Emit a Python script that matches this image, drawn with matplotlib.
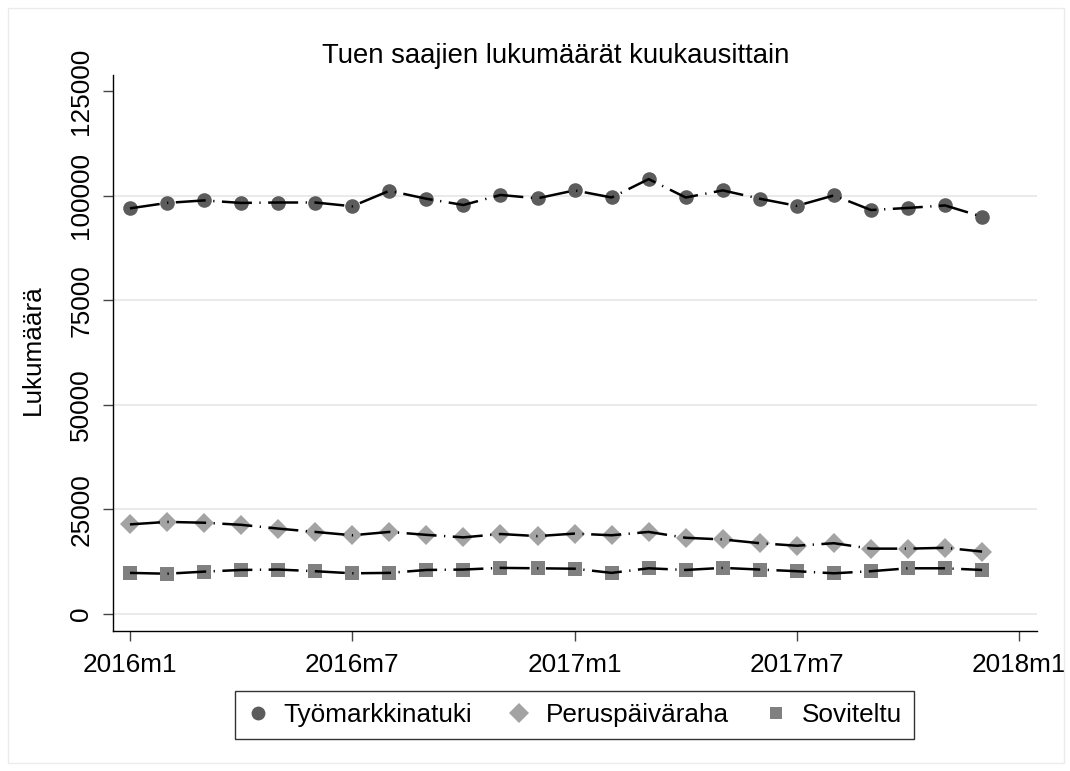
import matplotlib
matplotlib.use("Agg")
import matplotlib.pyplot as plt
from matplotlib.lines import Line2D
from matplotlib.patches import Rectangle

plt.rcParams['font.family'] = ['Liberation Sans', 'DejaVu Sans']

# ---- data ----
months = ["2016m1", "2016m2", "2016m3", "2016m4", "2016m5", "2016m6",
          "2016m7", "2016m8", "2016m9", "2016m10", "2016m11", "2016m12",
          "2017m1", "2017m2", "2017m3", "2017m4", "2017m5", "2017m6",
          "2017m7", "2017m8", "2017m9", "2017m10", "2017m11", "2017m12"]
tyomarkkinatuki = [97000, 98300, 98900, 98300, 98400, 98400, 97500, 101200,
                   99300, 97800, 100200, 99400, 101300, 99600, 104000, 99600,
                   101300, 99300, 97600, 100100, 96600, 97100, 97700, 95000]
peruspaivaraha = [21400, 22000, 21800, 21300, 20400, 19600, 18800, 19600,
                  18900, 18300, 19100, 18600, 19200, 18800, 19600, 18200,
                  17800, 16900, 16300, 16900, 15600, 15600, 15800, 14900]
soviteltu = [9800, 9600, 10100, 10500, 10600, 10200, 9700, 9800,
             10500, 10600, 11000, 10900, 10800, 9800, 10900, 10500,
             11000, 10600, 10200, 9700, 10200, 10900, 10900, 10500]
series_names = ["Työmarkkinatuki", "Peruspäiväraha", "Soviteltu"]
xtick_labels = ["2016m1", "2016m7", "2017m1", "2017m7", "2018m1"]
ytick_values = [0, 25000, 50000, 75000, 100000, 125000]
grid_values = [0, 25000, 50000, 75000, 100000]
title = "Tuen saajien lukumäärät kuukausittain"
ylabel = "Lukumäärä"

# ---- figure ----
W, H = 1070, 771
fig = plt.figure(figsize=(W / 100, H / 100), dpi=100)
fig.patches.append(Rectangle((8 / W, 8 / H), (1064 - 8) / W, (763 - 8) / H,
                             transform=fig.transFigure, fill=False,
                             edgecolor='#ebebeb', linewidth=1.0))

ax_l, ax_r, ax_t, ax_b = 113.3, 1037.3, 75, 631
ax = fig.add_axes([ax_l / W, 1 - ax_b / H, (ax_r - ax_l) / W, (ax_b - ax_t) / H])

x = list(range(len(months)))
styles = [
    dict(marker='o', color='#5c5c5c', ms=10.5),
    dict(marker='D', color='#a3a3a3', ms=10.5),
    dict(marker='s', color='#808080', ms=9.8),
]
data = [tyomarkkinatuki, peruspaivaraha, soviteltu]
for vals, st in zip(data, styles):
    ax.plot(x, vals, linestyle='none', marker=st['marker'], ms=st['ms'],
            color=st['color'], markeredgewidth=0, zorder=2)
    ax.plot(x, vals, color='black', linewidth=1.8,
            dashes=(12, 3, 0.5, 3), zorder=3)

for g in grid_values:
    ax.axhline(g, color='#e6e6e6', linewidth=1.2, zorder=1)

ax.set_xlim(-0.45, 24.49)
ax.set_ylim(-4100, 128900)
ax.set_xticks([0, 6, 12, 18, 24])
ax.set_xticklabels(xtick_labels)
ax.set_yticks(ytick_values)
ax.set_yticklabels([str(v) for v in ytick_values], rotation=90, va='center')

for s in ['top', 'right']:
    ax.spines[s].set_visible(False)
for s in ['left', 'bottom']:
    ax.spines[s].set_color('black')
    ax.spines[s].set_linewidth(1.0)

ax.tick_params(axis='both', length=7.5, width=1.0, color='#444444',
               labelsize=18.8, labelcolor='black')
ax.tick_params(axis='y', pad=7)
ax.tick_params(axis='x', pad=8)

fig.text(556 / W, 1 - 63 / H, title, ha='center', va='baseline',
         fontsize=19.8)
fig.text(33 / W, 1 - 350 / H, ylabel, rotation=90, ha='center', va='center',
         fontsize=18.8)

handles = [Line2D([], [], linestyle='none', marker=st['marker'],
                  color=st['color'], ms=st['ms'] * 0.95, markeredgewidth=0)
           for st in styles]
leg = fig.legend(handles, series_names, ncol=3, loc='center',
                 bbox_to_anchor=(574.5 / W, 1 - 715 / H),
                 fontsize=18.8, frameon=True, fancybox=False,
                 handlelength=0.8, handletextpad=0.6, columnspacing=1.4,
                 borderpad=0.45, borderaxespad=0)
leg.get_frame().set_edgecolor('black')
leg.get_frame().set_linewidth(1.0)

fig.savefig("out.png", dpi=100, facecolor='white')
